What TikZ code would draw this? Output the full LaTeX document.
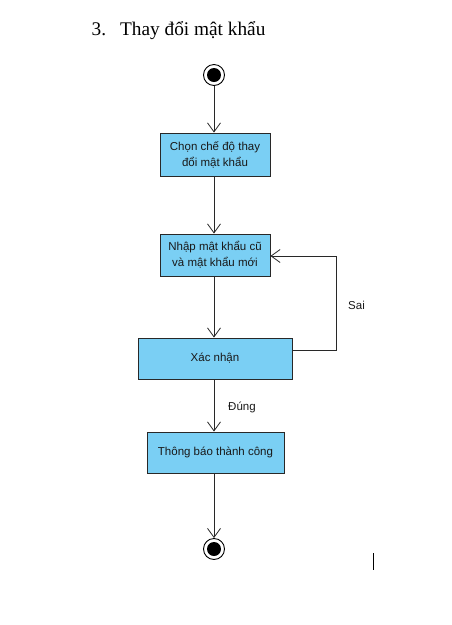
\documentclass[tikz,border=0pt]{standalone}
\usepackage{fontspec}
\setmainfont{Liberation Serif}
\newfontfamily\boxfont{Liberation Sans}
\usetikzlibrary{arrows.meta}
\definecolor{actfill}{RGB}{122,207,244}
\definecolor{edge}{RGB}{40,40,40}
\definecolor{ink}{RGB}{25,25,25}
\tikzset{
  activity/.style={draw=edge, line width=0.9pt, fill=actfill, inner sep=0pt, text=ink,
    font=\boxfont\fontsize{11.5}{16}\selectfont, align=center},
  flow/.style={draw=edge, line width=0.8pt, -{Straight Barb[length=9pt,width=13pt,line width=0.8pt]}},
  guard/.style={font=\boxfont\fontsize{11.5}{13}\selectfont, text=ink}
}
\begin{document}
\begin{tikzpicture}[x=1pt,y=-1pt]
\useasboundingbox (0,0) rectangle (451,625);
% heading
\node[anchor=base west, inner sep=0pt, font=\fontsize{19.3}{22}\selectfont] (title) at (91.5,35) {3.\hspace{14pt}Thay đổi mật khẩu};
% initial state
\node[circle, draw=black, line width=0.9pt, minimum size=21pt, inner sep=0pt] (start) at (214,75) {};
\fill[black] (start.center) circle (7pt);
% activities
\node[activity, minimum width=110pt, minimum height=43pt] (chon) at (215,154.5) {Chọn chế độ thay\\đổi mật khẩu};
\node[activity, minimum width=110pt, minimum height=42pt] (nhap) at (215,255) {Nhập mật khẩu cũ\\và mật khẩu mới};
\node[activity, minimum width=154pt, minimum height=41pt] (xacnhan) at (215,358.5) {Xác nhận};
\node[activity, minimum width=137pt, minimum height=41pt] (thongbao) at (215.5,452.5) {Thông báo thành công};
% final state
\node[circle, draw=black, line width=0.9pt, minimum size=21pt, inner sep=0pt] (end) at (214,549) {};
\fill[black] (end.center) circle (7pt);
% flows
\draw[flow] (start.south) -- (start.south |- chon.north);
\draw[flow] (start.south |- chon.south) -- (start.south |- nhap.north);
\draw[flow] (start.south |- nhap.south) -- (start.south |- xacnhan.north);
\draw[flow] (start.south |- xacnhan.south) -- (start.south |- thongbao.north);
\draw[flow] (start.south |- thongbao.south) -- (end.north);
% retry loop
\coordinate (loopout) at (xacnhan.east |- 0,350);
\coordinate (loopin) at (nhap.east |- 0,256);
\draw[flow] (loopout) -- (336,350) -- (336,256) -- (loopin);
\node[guard, anchor=west, inner sep=0pt] (sai) at (348,305) {Sai};
\node[guard, anchor=west, inner sep=0pt] (dung) at (228,407) {Đúng};
% text cursor
\draw[black, line width=0.9pt] (373,553) -- (373,570);
\end{tikzpicture}
\end{document}
